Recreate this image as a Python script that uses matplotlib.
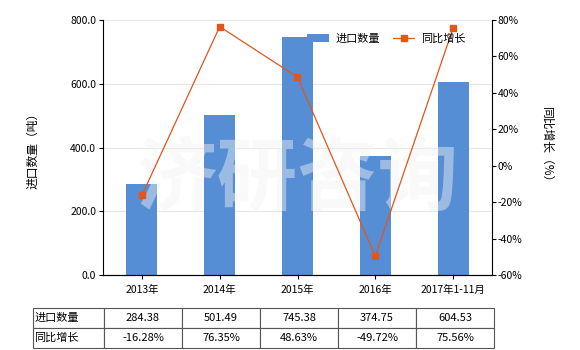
import matplotlib.pyplot as plt
import numpy as np

plt.rcParams['font.family'] = ['Noto Sans CJK SC', 'DejaVu Sans']

# data
years = ['2013年', '2014年', '2015年', '2016年', '2017年1-11月']
qty = [284.38, 501.49, 745.38, 374.75, 604.53]
growth = [-16.28, 76.35, 48.63, -49.72, 75.56]
qty_txt = ['284.38', '501.49', '745.38', '374.75', '604.53']
growth_txt = ['-16.28%', '76.35%', '48.63%', '-49.72%', '75.56%']

bar_c = '#558ED5'
line_c = '#E0561B'

fig = plt.figure(figsize=(5.8, 3.5), dpi=100)
ax = fig.add_axes([103/580, 1-275/350, 389/580, 255/350])
x = np.arange(len(years))

ax.bar(x, qty, width=0.4, color=bar_c, zorder=2, label='进口数量')
ax.set_xlim(-0.5, 4.5)
ax.set_ylim(0, 800)
ax.set_yticks([0, 200, 400, 600, 800])
ax.set_yticklabels(['%.1f' % v for v in [0, 200, 400, 600, 800]])
ax.grid(axis='y', color='#e6e6e6', lw=0.8, zorder=0)
ax.set_xticks(x)
ax.set_xticklabels(years)
ax.tick_params(axis='x', length=3, labelsize=7.5, pad=4)
ax.tick_params(axis='y', length=3, labelsize=7.5, pad=2)
ax.spines['top'].set_visible(False)
ax.spines['right'].set_visible(False)
ax.set_ylabel('进口数量（吨）', fontsize=8.5, labelpad=22)

# watermark
ax.text(0.5, 0.37, '济研咨询', transform=ax.transAxes, fontsize=58,
        color='#f2f2f2', alpha=0.45, ha='center', va='center',
        fontweight='bold', zorder=5)

ax2 = ax.twinx()
ax2.plot(x, growth, color=line_c, lw=0.9, marker='s', ms=4, zorder=3, label='同比增长')
ax2.set_ylim(-60, 80)
ax2.set_yticks(range(-60, 81, 20))
ax2.set_yticklabels(['%d%%' % v for v in range(-60, 81, 20)])
ax2.tick_params(axis='y', length=3, labelsize=7.5, pad=1)
ax2.spines['top'].set_visible(False)
ax2.spines['left'].set_visible(False)
ax2.set_ylabel('同比增长（%）', fontsize=8.5, rotation=-90, labelpad=22)

h1, l1 = ax.get_legend_handles_labels()
h2, l2 = ax2.get_legend_handles_labels()
ax2.legend(h1 + h2, l1 + l2, loc='upper left', bbox_to_anchor=(0.5, 0.985),
           ncol=2, frameon=False, fontsize=8, handlelength=1.9,
           columnspacing=1.2, handletextpad=0.6)

# table below
cells = [['进口数量'] + qty_txt, ['同比增长'] + growth_txt]
tb = ax.table(cellText=cells, cellLoc='center',
              colWidths=[71/389] + [78/389]*5,
              bbox=[(33-103)/389, (275-348)/255, 461/389, 40/255])
tb.auto_set_font_size(False)
tb.set_fontsize(8)
for (r, c), cell in tb.get_celld().items():
    cell.set_edgecolor('#555555')
    cell.set_linewidth(0.8)
    if c == 0:
        cell.PAD = 0.02
        cell.get_text().set_ha('left')

fig.savefig('out.png', dpi=100)
